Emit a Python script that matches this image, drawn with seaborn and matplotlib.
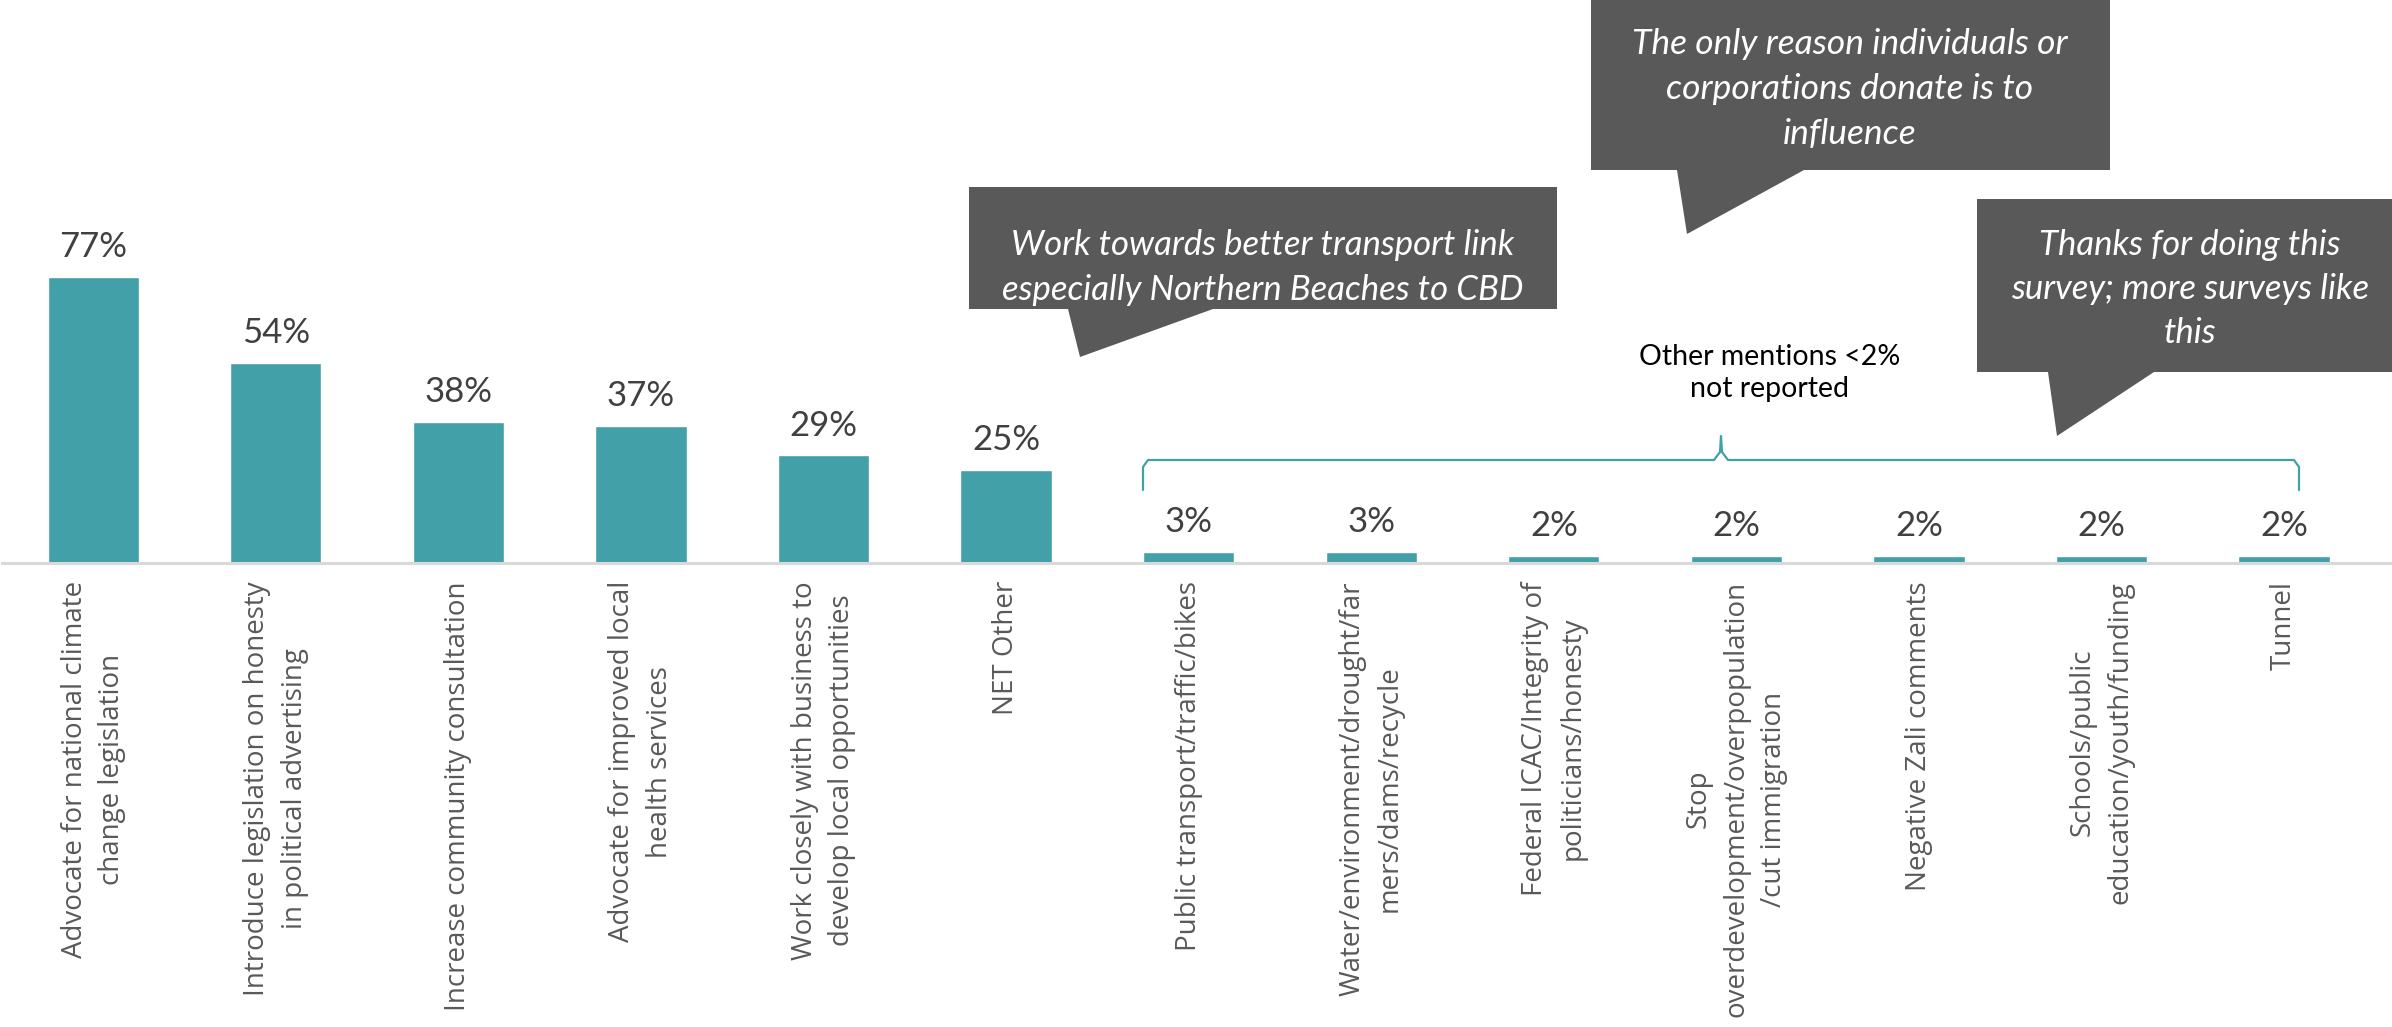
import matplotlib
matplotlib.use("Agg")
import matplotlib.pyplot as plt
from matplotlib.patches import Polygon
import seaborn as sns

# dados
categorias = [
    "Advocate for national climate change legislation",
    "Introduce legislation on honesty in political advertising",
    "Increase community consultation",
    "Advocate for improved local health services",
    "Work closely with business to develop local opportunities",
    "NET Other",
    "Public transport/traffic/bikes",
    "Water/environment/drought/farmers/dams/recycle",
    "Federal ICAC/Integrity of politicians/honesty",
    "Stop overdevelopment/overpopulation/cut immigration",
    "Negative Zali comments",
    "Schools/public education/youth/funding",
    "Tunnel",
]
valores = [77, 54, 38, 37, 29, 25, 3, 3, 2, 2, 2, 2, 2]
rotulos = [
    "Advocate for national climate\nchange legislation",
    "Introduce legislation on honesty\nin political advertising",
    "Increase community consultation",
    "Advocate for improved local\nhealth services",
    "Work closely with business to\ndevelop local opportunities",
    "NET Other",
    "Public transport/traffic/bikes",
    "Water/environment/drought/far\nmers/dams/recycle",
    "Federal ICAC/Integrity of\npoliticians/honesty",
    "Stop\noverdevelopment/overpopulation\n/cut immigration",
    "Negative Zali comments",
    "Schools/public\neducation/youth/funding",
    "Tunnel",
]
comentarios = [
    "Work towards better transport link\nespecially Northern Beaches to CBD",
    "The only reason individuals or\ncorporations donate is to\ninfluence",
    "Thanks for doing this\nsurvey; more surveys like\nthis",
]
nota = "Other mentions <2%\nnot reported"

sns.set_style("white")
plt.rcParams["font.family"] = ["Lato", "DejaVu Sans"]

W, H = 2392, 1027
fig = plt.figure(figsize=(W / 100, H / 100), dpi=100)

def fx(x):
    return x / W

def fy(y):
    return 1 - y / H

ax = fig.add_axes([fx(2), fy(563), (2390 - 2) / W, 371 / H])

sns.barplot(x=categorias, y=valores, color="#42A0A9", saturation=1, width=0.5, ax=ax)
ax.set_xlim(-0.5, 12.58)
ax.set_ylim(0, 100)

ax.bar_label(ax.containers[0], labels=[f"{v}%" for v in valores], padding=10,
             fontsize=25, color="#404040", family=["Lato", "DejaVu Sans"])

ax.set_xticks(range(len(rotulos)))
ax.set_xticklabels(rotulos, rotation=90, fontsize=20, color="#595959",
                   family=["Open Sans", "DejaVu Sans"], linespacing=1.45)
ax.tick_params(axis="x", length=0, pad=13)
ax.set_yticks([])
ax.set_xlabel("")
ax.set_ylabel("")
for s in ["top", "right", "left"]:
    ax.spines[s].set_visible(False)
ax.spines["bottom"].set_color("#D9D9D9")
ax.spines["bottom"].set_linewidth(2.2)

# balões de comentário (caixa + ponta)
baloes = [
    # x0, x1, y0, y1, base ponta (xa, xb), bico (xt, yt)
    (969, 1557, 187, 309, 1068, 1213, 1080, 357),
    (1591, 2110, 0, 170, 1677, 1804, 1687, 234),
    (1977, 2392, 199, 372, 2048, 2154, 2057, 436),
]
cinza = "#595959"
for (x0, x1, y0, y1, xa, xb, xt, yt), txt in zip(baloes, comentarios):
    pts = [(x0, y0), (x1, y0), (x1, y1), (xb, y1), (xt, yt), (xa, y1), (x0, y1)]
    poly = Polygon([(fx(a), fy(b)) for a, b in pts], closed=True,
                   facecolor=cinza, edgecolor="none", transform=fig.transFigure)
    fig.add_artist(poly)

fig.text(fx(1263), fy(268), comentarios[0], ha="center", va="center", color="white",
         fontsize=25, style="italic", linespacing=1.5)
fig.text(fx(1850), fy(89), comentarios[1], ha="center", va="center", color="white",
         fontsize=25.5, style="italic", linespacing=1.5)
fig.text(fx(2190), fy(289), comentarios[2], ha="center", va="center", color="white",
         fontsize=25, style="italic", linespacing=1.45)

# chave sobre os itens menores
teal = "#42A0A9"
chave = [(1143, 490), (1143, 467), (1148, 460), (1714, 460), (1720, 452), (1721, 436),
         (1722, 452), (1728, 460), (2294, 460), (2299, 467), (2299, 490)]
fig.add_artist(plt.Line2D([fx(a) for a, b in chave], [fy(b) for a, b in chave],
                          color=teal, linewidth=1.6, transform=fig.transFigure))
fig.text(fx(1770), fy(373), nota, ha="center", va="center", color="black",
         fontsize=20.5, linespacing=1.3)

fig.savefig("out.png", dpi=100, facecolor="white")
